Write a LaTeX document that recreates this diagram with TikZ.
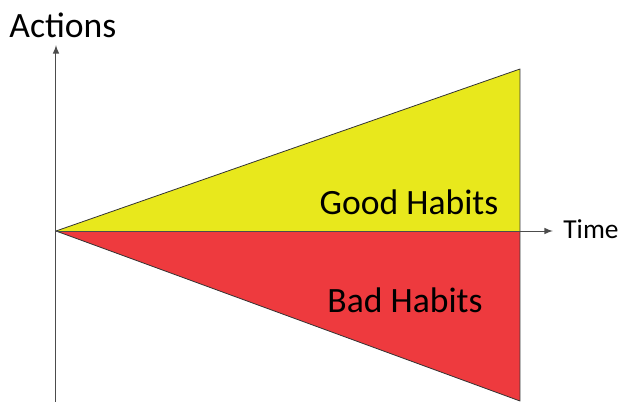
\documentclass[tikz,border=0pt]{standalone}
\usepackage{fontspec}
\setmainfont{Carlito}
\usepackage{tikz}
\definecolor{goodyellow}{RGB}{232,232,28}
\definecolor{badred}{RGB}{238,58,62}
\tikzset{
    habit/.style={draw=black!80, line width=0.4pt, line join=round},
    axis/.style={->, >=latex, draw=black!70, line width=0.5pt},
    biglabel/.style={font=\fontsize{17.8}{20}\selectfont, inner sep=0pt},
}

\begin{document}
\begin{tikzpicture}[x=0.5pt, y=-0.5pt]
        \useasboundingbox (0,0) rectangle (618,402);
        % corners of the two triangles
        \coordinate (origin) at (56,231);
        \coordinate (goodtop) at (520,69);
        \coordinate (axisend) at (520,231);
        \coordinate (badbottom) at (520,401);
        \fill[goodyellow] (origin) -- (goodtop) -- (axisend) -- cycle;
        \fill[badred] (origin) -- (axisend) -- (badbottom) -- cycle;
        \draw[habit] (origin) -- (goodtop) -- (badbottom) -- cycle;
        % axes
        \coordinate (ybottom) at (56,402);
        \coordinate (ytip) at (56,45);
        \coordinate (xtip) at (553,231);
        \draw [axis] (ybottom) -- (ytip);
        \draw [axis] (origin) -- (xtip);
        \node[biglabel, anchor=base west] (actions) at (9,37) {Actions};
        \node[font=\fontsize{13.7}{16}\selectfont, inner sep=0pt, anchor=base west] (time) at (563,238) {Time};
        \node[biglabel, anchor=base] (good) at (409,214) {Good Habits};
        \node[biglabel, anchor=base] (bad) at (405,312) {Bad Habits};
      \end{tikzpicture}
\end{document}
